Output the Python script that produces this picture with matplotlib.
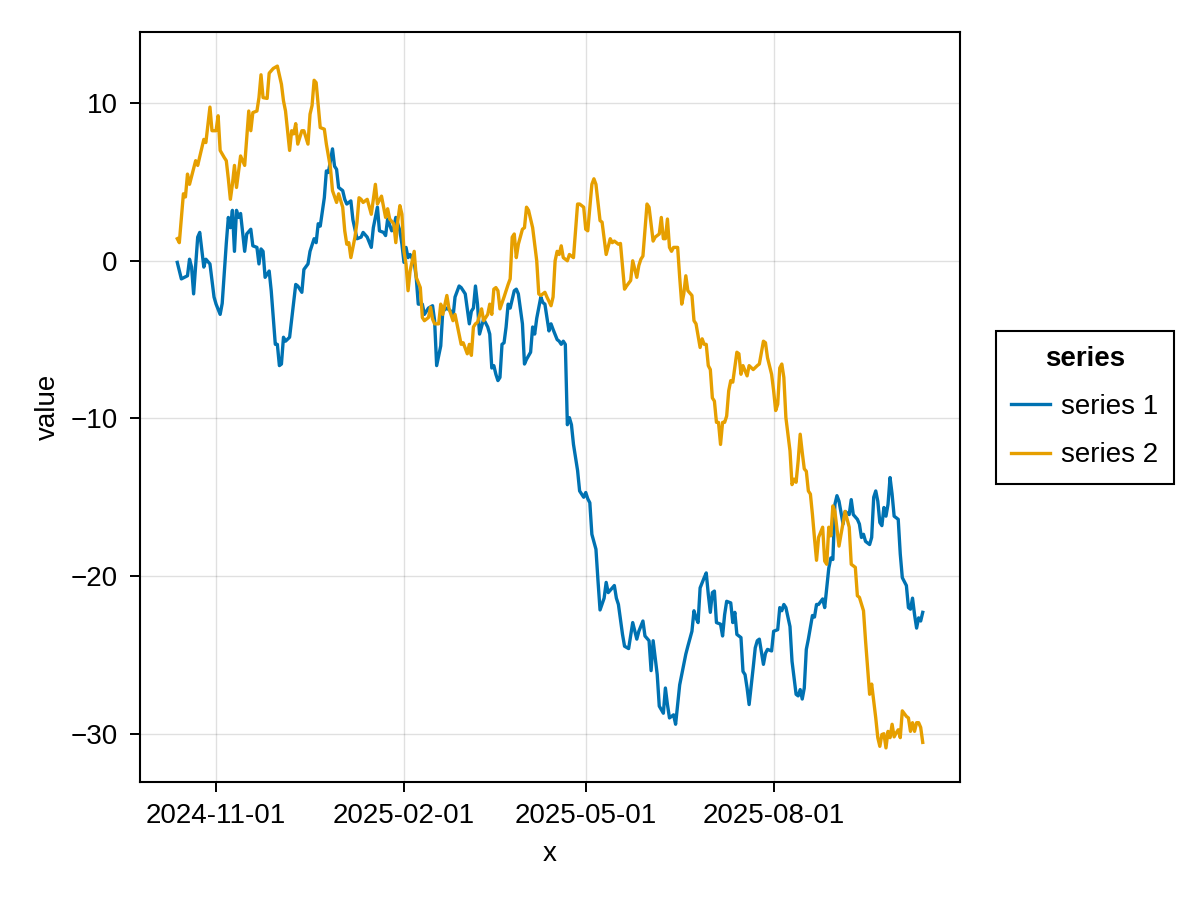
import numpy as np
import pandas as pd
import matplotlib
matplotlib.use("Agg")
import matplotlib.pyplot as plt
import matplotlib.dates as mdates

plt.rcParams['font.family'] = ['Liberation Sans', 'DejaVu Sans']

start = pd.Timestamp("2024-10-13")

# series 1 (blue): day offset from start, value
s1_days = [0, 2, 5, 6, 7, 8, 10, 11, 13, 14,
           16, 18, 19, 21, 22, 24, 25, 26, 27, 28,
           29, 30, 31, 33, 34, 36, 37, 39, 40, 41,
           42, 43, 45, 46, 48, 49, 50, 51, 52, 53,
           55, 58, 59, 61, 62, 64, 65, 67, 68, 69,
           70, 72, 73, 74, 75, 76, 77, 78, 79, 81,
           82, 83, 85, 86, 88, 90, 91, 93, 95, 96,
           98, 99, 101, 102, 103, 105, 106, 107, 109, 110,
           111, 112, 113, 114, 116, 117, 118, 120, 121, 123,
           125, 126, 127, 129, 130, 132, 134, 135, 136, 138,
           139, 141, 143, 144, 145, 146, 147, 148, 150, 152,
           153, 154, 155, 156, 157, 158, 159, 160, 161, 162,
           163, 165, 166, 167, 169, 170, 171, 173, 174, 175,
           176, 178, 179, 180, 182, 183, 184, 186, 187, 188,
           189, 190, 191, 192, 193, 194, 196, 197, 199, 200,
           201, 202, 203, 205, 206, 207, 209, 210, 211, 213,
           214, 215, 216, 218, 219, 221, 223, 225, 226, 228,
           229, 231, 232, 233, 235, 236, 238, 239, 240, 241,
           243, 244, 246, 247, 249, 250, 252, 253, 254, 255,
           256, 258, 259, 260, 261, 262, 263, 264, 266, 267,
           268, 269, 271, 272, 273, 274, 276, 277, 278, 279,
           280, 282, 283, 284, 285, 287, 288, 289, 291, 292,
           294, 295, 296, 297, 298, 300, 301, 303, 304, 305,
           306, 307, 308, 309, 311, 312, 313, 314, 316, 317,
           319, 320, 321, 322, 323, 324, 326, 327, 329, 330,
           331, 333, 334, 335, 336, 337, 339, 340, 341, 342,
           343, 344, 345, 346, 347, 348, 349, 350, 351, 353,
           354, 355, 357, 358, 359, 360, 361, 362, 363, 364,
           365]
s1_vals = [-0.1, -1.15, -0.95, 0.1, -0.4, -2.1, 1.5, 1.8, -0.4, 0.1,
           -0.2, -2.3, -2.75, -3.4, -2.7, 1.1, 2.75, 2.1, 3.2, 0.6,
           3.2, 2.75, 3.0, 0.6, 1.7, 2.0, 0.95, 0.85, -0.2, 0.75,
           0.6, -1.05, -0.65, -1.9, -5.3, -5.3, -6.65, -6.55, -4.85, -5.1,
           -4.85, -1.5, -1.6, -2.0, -0.55, -0.2, 0.6, 1.4, 1.15, 2.35,
           2.2, 4.0, 5.7, 5.6, 6.35, 7.1, 6.0, 5.8, 4.65, 4.45,
           3.9, 3.6, 3.8, 2.6, 1.4, 1.5, 1.8, 1.5, 0.85, 2.1,
           3.4, 1.9, 1.8, 1.6, 2.65, 1.9, 2.1, 2.75, 1.9, 1.05,
           -0.1, 0.85, 0.2, 0.4, -0.1, -1.05, -2.75, -2.75, -3.4, -3.0,
           -2.85, -3.8, -6.65, -5.4, -3.2, -3.0, -3.2, -3.6, -2.3, -1.6,
           -1.7, -2.1, -4.0, -3.2, -3.0, -1.6, -2.75, -4.65, -3.7, -4.2,
           -4.65, -6.8, -6.65, -7.2, -7.6, -7.4, -5.3, -5.2, -4.2, -2.75,
           -3.0, -1.9, -1.8, -2.1, -4.0, -6.55, -6.25, -5.8, -4.2, -4.65,
           -3.65, -2.3, -2.65, -2.75, -4.45, -4.0, -4.35, -5.0, -5.1, -5.3,
           -5.1, -5.3, -10.4, -9.95, -10.4, -11.65, -13.3, -14.6, -15.0, -14.7,
           -15.1, -15.35, -17.35, -18.3, -20.3, -22.15, -21.4, -20.4, -21.05, -20.75,
           -20.6, -21.4, -21.8, -23.7, -24.45, -24.6, -22.95, -24.0, -23.5, -22.85,
           -23.8, -24.1, -26.0, -24.1, -26.25, -28.25, -28.7, -27.1, -28.15, -29.0,
           -28.8, -29.4, -26.9, -26.25, -24.95, -24.45, -23.5, -22.2, -22.65, -22.95,
           -20.75, -20.1, -19.8, -21.15, -22.3, -21.05, -20.95, -22.95, -23.05, -23.8,
           -22.45, -21.6, -21.7, -22.95, -22.3, -23.7, -23.9, -26.05, -26.25, -27.1,
           -28.15, -25.8, -24.55, -24.1, -24.0, -25.6, -24.9, -24.65, -24.75, -23.5,
           -23.4, -22.0, -22.2, -21.8, -22.0, -23.2, -25.4, -27.5, -27.6, -27.2,
           -27.8, -27.1, -24.65, -24.0, -22.5, -22.6, -21.8, -21.8, -21.45, -22.0,
           -19.5, -18.85, -18.95, -15.45, -14.9, -15.25, -16.7, -15.9, -16.1, -15.15,
           -16.1, -16.4, -16.7, -17.55, -17.35, -17.8, -18.0, -17.55, -15.0, -14.6,
           -15.25, -16.6, -16.8, -15.65, -16.2, -15.45, -13.75, -14.8, -16.2, -16.4,
           -18.6, -20.1, -20.6, -22.0, -22.1, -21.4, -22.45, -23.3, -22.65, -22.85,
           -22.3]

# series 2 (orange)
s2_days = [0, 1, 3, 4, 5, 6, 9, 10, 13, 14,
           16, 17, 19, 20, 21, 23, 24, 25, 26, 27,
           28, 29, 31, 33, 35, 36, 37, 39, 40, 41,
           42, 44, 45, 47, 49, 51, 52, 53, 55, 56,
           57, 58, 59, 61, 62, 64, 65, 66, 67, 68,
           70, 72, 73, 75, 76, 78, 79, 81, 82, 83,
           84, 85, 87, 88, 89, 90, 91, 93, 95, 97,
           98, 100, 102, 103, 104, 106, 107, 108, 109, 110,
           111, 112, 113, 114, 116, 117, 119, 120, 121, 123,
           124, 125, 126, 128, 129, 130, 132, 133, 135, 136,
           138, 139, 140, 142, 143, 144, 145, 146, 147, 149,
           150, 152, 153, 154, 155, 156, 157, 158, 160, 161,
           162, 163, 164, 165, 166, 167, 169, 170, 171, 172,
           174, 175, 176, 177, 178, 180, 181, 183, 184, 185,
           186, 187, 188, 189, 191, 192, 194, 196, 197, 199,
           200, 201, 203, 204, 205, 207, 208, 210, 212, 213,
           214, 216, 217, 219, 220, 222, 223, 225, 226, 227,
           228, 230, 231, 233, 234, 236, 237, 238, 239, 240,
           241, 242, 243, 245, 246, 247, 248, 249, 250, 252,
           253, 254, 256, 257, 258, 259, 260, 261, 262, 263,
           264, 265, 266, 267, 268, 269, 270, 271, 272, 274,
           275, 276, 277, 279, 280, 282, 284, 285, 287, 288,
           289, 291, 292, 293, 294, 295, 296, 297, 298, 300,
           301, 302, 303, 304, 305, 306, 307, 308, 309, 310,
           311, 312, 313, 314, 316, 317, 318, 319, 320, 321,
           322, 324, 325, 327, 329, 330, 331, 332, 333, 334,
           336, 337, 338, 339, 340, 342, 343, 344, 345, 346,
           347, 348, 349, 350, 351, 352, 353, 354, 355, 357,
           358, 359, 360, 361, 362, 363, 364, 365]
s2_vals = [1.4, 1.15, 4.25, 4.05, 5.5, 4.85, 6.35, 6.05, 7.7, 7.5,
           9.75, 8.25, 8.25, 9.2, 7.0, 6.55, 6.35, 5.2, 3.9, 4.85,
           6.05, 4.65, 6.65, 6.05, 9.5, 8.25, 9.4, 9.5, 10.35, 11.8,
           10.35, 10.3, 11.9, 12.2, 12.35, 11.2, 10.15, 9.5, 7.0, 8.25,
           8.05, 8.7, 7.4, 8.25, 8.25, 7.4, 9.3, 9.85, 11.45, 11.3,
           8.45, 8.35, 7.4, 5.9, 4.45, 3.7, 4.25, 3.4, 1.9, 1.05,
           1.15, 0.2, 1.5, 2.45, 4.0, 3.9, 3.7, 3.9, 2.95, 4.85,
           3.6, 4.1, 2.75, 3.3, 2.65, 2.35, 1.15, 2.55, 3.5, 2.95,
           0.6, -0.2, -1.9, -0.65, 0.6, -1.05, -1.7, -3.6, -3.8, -3.6,
           -2.95, -3.7, -4.0, -4.0, -2.75, -3.4, -2.2, -3.0, -3.8, -3.4,
           -4.65, -5.3, -5.2, -5.9, -5.3, -6.0, -4.2, -4.0, -3.9, -3.05,
           -3.8, -3.4, -2.75, -3.4, -1.8, -1.7, -1.9, -3.05, -2.3, -1.9,
           -1.5, -1.15, 1.5, 1.7, 0.2, 1.05, 2.0, 2.1, 3.4, 3.2,
           2.1, 1.05, 0.0, -2.1, -2.2, -2.0, -2.3, -2.85, -2.3, 0.0,
           0.6, 0.4, 0.95, 0.2, 0.0, 0.4, 0.2, 3.6, 3.6, 3.4,
           2.0, 1.9, 4.85, 5.2, 4.85, 2.55, 2.45, 0.4, 1.4, 1.15,
           1.25, 1.05, 1.1, -1.8, -1.6, -1.25, 0.0, -1.05, -0.3, 0.1,
           0.3, 3.6, 3.4, 1.25, 1.5, 1.7, 2.75, 1.4, 1.4, 2.65,
           0.85, 0.6, 0.85, 0.85, -1.05, -2.75, -2.1, -0.95, -1.9, -2.2,
           -3.8, -4.0, -5.5, -4.95, -5.3, -5.3, -6.65, -6.9, -8.7, -8.9,
           -10.25, -10.25, -11.65, -10.25, -10.25, -9.85, -8.25, -7.6, -7.7, -5.8,
           -5.9, -7.2, -6.65, -7.3, -6.65, -6.9, -6.65, -6.55, -5.1, -5.2,
           -6.15, -7.2, -8.25, -9.5, -9.1, -6.8, -6.55, -7.4, -9.95, -12.05,
           -14.2, -13.85, -14.05, -12.7, -11.0, -12.15, -13.2, -13.35, -14.6, -14.8,
           -16.1, -17.6, -19.0, -17.55, -16.9, -19.05, -19.25, -16.9, -17.45, -15.55,
           -15.9, -18.1, -17.35, -15.9, -16.9, -19.25, -19.35, -19.45, -21.25, -21.35,
           -22.2, -24.1, -25.8, -27.5, -26.85, -29.0, -30.25, -30.8, -30.05, -30.0,
           -30.9, -29.85, -30.25, -29.4, -30.2, -29.95, -29.75, -30.25, -28.55, -28.9,
           -29.0, -29.85, -29.3, -29.85, -29.3, -29.3, -29.6, -30.55]

series_names = ["series 1", "series 2"]
series_colors = ["#0072B2", "#E69F00"]
xtick_dates = ["2024-11-01", "2025-02-01", "2025-05-01", "2025-08-01"]
ytick_vals = [-30, -20, -10, 0, 10]

d1 = start + pd.to_timedelta(s1_days, unit="D")
d2 = start + pd.to_timedelta(s2_days, unit="D")

fig = plt.figure(figsize=(12, 9), dpi=100)
ax = fig.add_axes([140 / 1200, 1 - 782 / 900, 820 / 1200, 750 / 900])

l1, = ax.plot(d1, s1_vals, color=series_colors[0], lw=2.4, label=series_names[0])
l2, = ax.plot(d2, s2_vals, color=series_colors[1], lw=2.4, label=series_names[1])
ax.margins(x=0.05, y=0.05)

ax.set_xticks(pd.to_datetime(xtick_dates))
ax.xaxis.set_major_formatter(mdates.DateFormatter("%Y-%m-%d"))
ax.set_yticks(ytick_vals)

ax.grid(True, color="black", alpha=0.12, lw=1.0)
ax.set_axisbelow(True)
for sp in ax.spines.values():
    sp.set_linewidth(1.5)
ax.tick_params(direction="out", length=7, width=1.4, labelsize=20)
ax.tick_params(axis="y", pad=9)
ax.tick_params(axis="x", pad=8)

ax.set_xlabel("x", fontsize=20, labelpad=9)
ax.set_ylabel("value", fontsize=20, labelpad=7)

leg = fig.legend(handles=[l1, l2], title="series", loc="center left",
                 bbox_to_anchor=(996 / 1200, 1 - 407 / 900), borderaxespad=0,
                 fontsize=20,
                 title_fontproperties={"weight": "bold", "size": 20},
                 frameon=True, fancybox=False, framealpha=1, edgecolor="black",
                 handlelength=1.4, handletextpad=0.4, borderpad=0.55,
                 labelspacing=0.8)
leg.get_frame().set_linewidth(1.5)

fig.savefig("out.png", dpi=100)
